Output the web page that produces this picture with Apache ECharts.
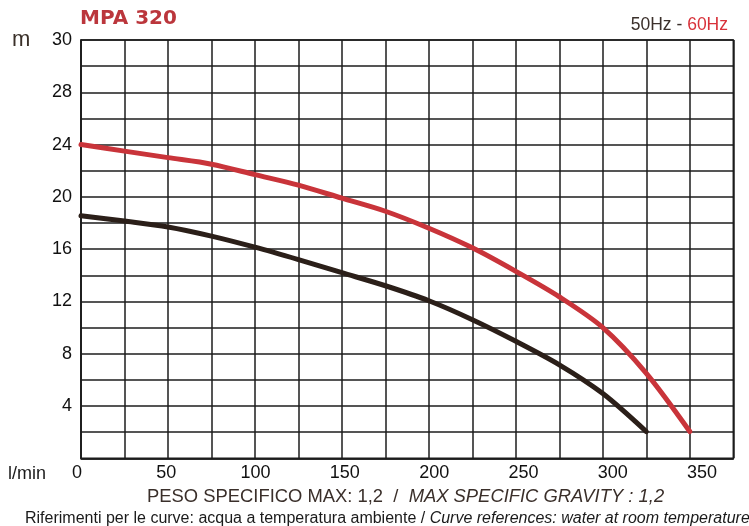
<!DOCTYPE html>
<html>
<head>
<meta charset="utf-8">
<script src="https://cdn.jsdelivr.net/npm/echarts@6/dist/echarts.min.js"></script>
<style>
  html, body { margin: 0; padding: 0; background: #ffffff; }
  #chart { width: 749px; height: 526px; }
</style>
</head>
<body>
<div id="chart"></div>
<script>
// Flow (l/min) sample positions and head (m) values
const flow60 = [0, 25, 50, 75, 100, 125, 150, 175, 200, 225, 250, 275, 300, 325, 350];
const head60 = [24.0, 23.5, 23.0, 22.5, 21.7, 20.9, 19.9, 18.9, 17.6, 16.1, 14.3, 12.35, 10.0, 6.5, 2.05];

const flow50 = [0, 25, 50, 75, 100, 125, 150, 175, 200, 225, 250, 275, 300, 325];
const head50 = [18.55, 18.15, 17.7, 17.0, 16.15, 15.2, 14.2, 13.2, 12.05, 10.6, 8.95, 7.15, 4.95, 2.04];

// Y tick labels as printed on the chart (top gridline printed as "30")
const yTickLabels = { 4: '4', 8: '8', 12: '12', 16: '16', 20: '20', 24: '24', 28: '28', 32: '30' };
const xTickLabels = ['0', '50', '100', '150', '200', '250', '300', '350'];

const titleText = 'MPA 320';
const hzText50 = '50Hz - ';
const hzText60 = '60Hz';
const yUnit = 'm';
const xUnit = 'l/min';
const noteIt1 = 'PESO SPECIFICO MAX: 1,2  /  ';
const noteEn1 = 'MAX SPECIFIC GRAVITY : 1,2';
const noteIt2 = 'Riferimenti per le curve: acqua a temperatura ambiente / ';
const noteEn2 = 'Curve references: water at room temperature';

const pairs = (xs, ys) => xs.map((x, i) => [x, ys[i]]);

const chart = echarts.init(document.getElementById('chart'), null, { renderer: 'canvas' });
const gridColor = '#1c1c1c';
const font = 'Liberation Sans, Arial, sans-serif';
const rs = (size, color, italic) => ({ fontFamily: font, fontSize: size, color: color,
  fontWeight: 'normal', fontStyle: italic ? 'italic' : 'normal' });

chart.setOption({
  backgroundColor: '#ffffff',
  animation: false,
  title: [
    { text: titleText, left: 80, top: 9, padding: 0,
      textStyle: { fontFamily: 'DejaVu Sans', fontWeight: 'bold', fontSize: 20, color: '#bb363c' } },
    { text: '{a|' + hzText50 + '}{b|' + hzText60 + '}', right: 21, top: 16, padding: 0,
      textStyle: { fontWeight: 'normal', rich: { a: rs(17.5, '#3b302b'), b: rs(17.5, '#d8323a') } } },
    { text: yUnit, left: 12, top: 29, padding: 0,
      textStyle: { fontFamily: font, fontSize: 22, fontWeight: 'normal', color: '#3a3029' } },
    { text: xUnit, left: 8, top: 465, padding: 0,
      textStyle: { fontFamily: font, fontSize: 18, fontWeight: 'normal', color: '#1a1a1a' } },
    { text: '{a|' + noteIt1 + '}{b|' + noteEn1 + '}', left: 147, top: 488, padding: 0,
      textStyle: { fontWeight: 'normal', rich: { a: rs(18.4, '#3a2f2a'), b: rs(18.4, '#3a2f2a', true) } } },
    { text: '{a|' + noteIt2 + '}{b|' + noteEn2 + '}', left: 25, top: 511, padding: 0,
      textStyle: { fontWeight: 'normal', rich: { a: rs(16, '#1a1a1a'), b: rs(16, '#1a1a1a', true) } } }
  ],
  grid: [
    { left: 81, right: 15.7, top: 40, bottom: 67.7, show: true, borderColor: gridColor, borderWidth: 1.5, containLabel: false },
    { left: 77, width: 625, top: 40, bottom: 67.7, show: false, containLabel: false }
  ],
  xAxis: [
    { type: 'value', gridIndex: 0, min: 0, max: 375, interval: 25,
      axisLine: { show: true, lineStyle: { color: gridColor, width: 1.5 } },
      axisTick: { show: false }, axisLabel: { show: false },
      splitLine: { show: true, lineStyle: { color: gridColor, width: 1.5 } } },
    { type: 'value', gridIndex: 1, min: 0, max: 350, interval: 50,
      axisLine: { show: false }, axisTick: { show: false }, splitLine: { show: false },
      axisLabel: { show: true, margin: 6, fontFamily: font, fontSize: 18, color: '#111111',
        formatter: (v) => xTickLabels[Math.round(v / 50)] || '' } }
  ],
  yAxis: [
    { type: 'value', gridIndex: 0, min: 0, max: 32, interval: 2,
      axisLine: { show: true, lineStyle: { color: gridColor, width: 1.5 } },
      axisTick: { show: false },
      axisLabel: { show: true, margin: 9, fontFamily: font, fontSize: 18, color: '#111111',
        formatter: (v) => yTickLabels[v] || '' },
      splitLine: { show: true, lineStyle: { color: gridColor, width: 1.5 } } },
    { type: 'value', gridIndex: 1, min: 0, max: 32, show: false }
  ],
  series: [
    { name: '50Hz', type: 'line', xAxisIndex: 0, yAxisIndex: 0, data: pairs(flow50, head50),
      smooth: 0.3, showSymbol: false, symbol: 'none',
      lineStyle: { color: '#2b1f19', width: 5, cap: 'round', join: 'round' }, z: 3 },
    { name: '60Hz', type: 'line', xAxisIndex: 0, yAxisIndex: 0, data: pairs(flow60, head60),
      smooth: 0.3, showSymbol: false, symbol: 'none',
      lineStyle: { color: '#c9343a', width: 5, cap: 'round', join: 'round' }, z: 3 }
  ]
});
</script>
</body>
</html>
